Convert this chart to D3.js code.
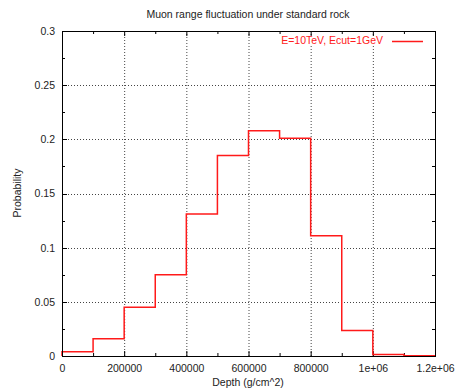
<!DOCTYPE html>
<html>
<head>
<meta charset="utf-8">
<script src="https://cdn.jsdelivr.net/npm/d3@7"></script>
<style>
  body { margin: 0; background: #fff; }
  text { font-family: "Liberation Sans", Arial, sans-serif; font-size: 10.5px; fill: #222; }
</style>
</head>
<body>
<figure id="chart" style="margin:0"></figure>
<script>
// histogram bins (left edges) and their probability
const binEdges = [0, 100000, 200000, 300000, 400000, 500000, 600000, 700000, 800000, 900000, 1000000, 1100000, 1200000];
const probs = [0.004, 0.016, 0.045, 0.075, 0.131, 0.185, 0.208, 0.201, 0.111, 0.0235, 0.0013, 0.0002];
const xTicks = [0, 200000, 400000, 600000, 800000, 1000000, 1200000];
const xTickLabels = ["0", "200000", "400000", "600000", "800000", "1e+06", "1.2e+06"];
const yTicks = [0, 0.05, 0.1, 0.15, 0.2, 0.25, 0.3];
const yTickLabels = ["0", "0.05", "0.1", "0.15", "0.2", "0.25", "0.3"];
const seriesName = "E=10TeV, Ecut=1GeV";

const width = 456, height = 391;
const margin = { top: 31, right: 21, bottom: 35, left: 62 };
const w = width - margin.left - margin.right;
const h = height - margin.top - margin.bottom;

const svg = d3.select("figure#chart")
  .append("svg")
  .attr("width", width)
  .attr("height", height);

const g = svg.append("g")
  .attr("transform", "translate(" + margin.left + "," + margin.top + ")");

const x = d3.scaleLinear().domain([0, 1200000]).range([0, w]);
const y = d3.scaleLinear().domain([0, 0.3]).range([h, 0]);

// grid
g.append("g").selectAll("line")
  .data(xTicks.slice(1, -1))
  .enter().append("line")
  .attr("x1", d => x(d) + 0.5).attr("x2", d => x(d) + 0.5)
  .attr("y1", 0).attr("y2", h)
  .attr("stroke", "#444").attr("stroke-width", 1).attr("stroke-dasharray", "1,2");
g.append("g").selectAll("line")
  .data(yTicks.slice(1, -1))
  .enter().append("line")
  .attr("y1", d => Math.round(y(d)) + 0.5).attr("y2", d => Math.round(y(d)) + 0.5)
  .attr("x1", 0).attr("x2", w)
  .attr("stroke", "#444").attr("stroke-width", 1).attr("stroke-dasharray", "1,2");

// minor ticks
const xMinor = d3.range(100000, 1200000, 200000);
const yMinor = d3.range(0.025, 0.3, 0.05);
const tickG = g.append("g").attr("stroke", "#000").attr("stroke-width", 1);
xMinor.forEach(d => {
  tickG.append("line").attr("x1", x(d) + 0.5).attr("x2", x(d) + 0.5).attr("y1", h).attr("y2", h - 3);
  tickG.append("line").attr("x1", x(d) + 0.5).attr("x2", x(d) + 0.5).attr("y1", 0).attr("y2", 3);
});
yMinor.forEach(d => {
  tickG.append("line").attr("y1", Math.round(y(d)) + 0.5).attr("y2", Math.round(y(d)) + 0.5).attr("x1", 0).attr("x2", 3);
  tickG.append("line").attr("y1", Math.round(y(d)) + 0.5).attr("y2", Math.round(y(d)) + 0.5).attr("x1", w).attr("x2", w - 3);
});
xTicks.forEach(d => {
  tickG.append("line").attr("x1", x(d) + 0.5).attr("x2", x(d) + 0.5).attr("y1", h).attr("y2", h - 5);
  tickG.append("line").attr("x1", x(d) + 0.5).attr("x2", x(d) + 0.5).attr("y1", 0).attr("y2", 5);
});
yTicks.forEach(d => {
  tickG.append("line").attr("y1", Math.round(y(d)) + 0.5).attr("y2", Math.round(y(d)) + 0.5).attr("x1", 0).attr("x2", 5);
  tickG.append("line").attr("y1", Math.round(y(d)) + 0.5).attr("y2", Math.round(y(d)) + 0.5).attr("x1", w).attr("x2", w - 5);
});

// axes labels via d3 axes (no tick lines drawn, labels only)
const xAxis = g.append("g")
  .attr("transform", "translate(0," + h + ")")
  .call(d3.axisBottom(x).tickValues(xTicks).tickSize(0).tickPadding(9)
    .tickFormat((d, i) => xTickLabels[i]));
xAxis.select(".domain").remove();
xAxis.selectAll("text").style("font-size", "10.5px").style("fill", "#222")
  .style("font-family", "Liberation Sans, Arial, sans-serif");

const yAxis = g.append("g")
  .call(d3.axisLeft(y).tickValues(yTicks).tickSize(0).tickPadding(7)
    .tickFormat((d, i) => yTickLabels[i]));
yAxis.select(".domain").remove();
yAxis.selectAll("text").style("font-size", "10.5px").style("fill", "#222")
  .style("font-family", "Liberation Sans, Arial, sans-serif");

// step line
const pts = [[binEdges[0], 0]];
probs.forEach((p, i) => {
  pts.push([binEdges[i], p]);
  pts.push([binEdges[i + 1], p]);
});
const line = d3.line().x(d => x(d[0])).y(d => y(d[1]));
g.append("path")
  .datum(pts)
  .attr("fill", "none")
  .attr("stroke", "#ff1a1a")
  .attr("stroke-width", 1.5)
  .attr("d", line);

// frame
g.append("rect")
  .attr("x", 0.5).attr("y", 0.5)
  .attr("width", w).attr("height", h)
  .attr("fill", "none").attr("stroke", "#000").attr("stroke-width", 1);

// legend (white box hides grid behind it)
g.append("rect")
  .attr("x", 212).attr("y", 5)
  .attr("width", 156).attr("height", 10)
  .attr("fill", "#fff");
g.append("text")
  .attr("x", 321).attr("y", 13)
  .attr("text-anchor", "end")
  .style("fill", "#ff2020")
  .text(seriesName);
g.append("line")
  .attr("x1", 330).attr("x2", 361)
  .attr("y1", 10.5).attr("y2", 10.5)
  .attr("stroke", "#ff1a1a").attr("stroke-width", 1.5);

// titles
svg.append("text")
  .attr("x", 248).attr("y", 18)
  .attr("text-anchor", "middle")
  .text("Muon range fluctuation under standard rock");
svg.append("text")
  .attr("x", 248).attr("y", 386)
  .attr("text-anchor", "middle")
  .text("Depth (g/cm^2)");
svg.append("text")
  .attr("transform", "translate(21,193) rotate(-90)")
  .attr("text-anchor", "middle")
  .text("Probability");
</script>
</body>
</html>
